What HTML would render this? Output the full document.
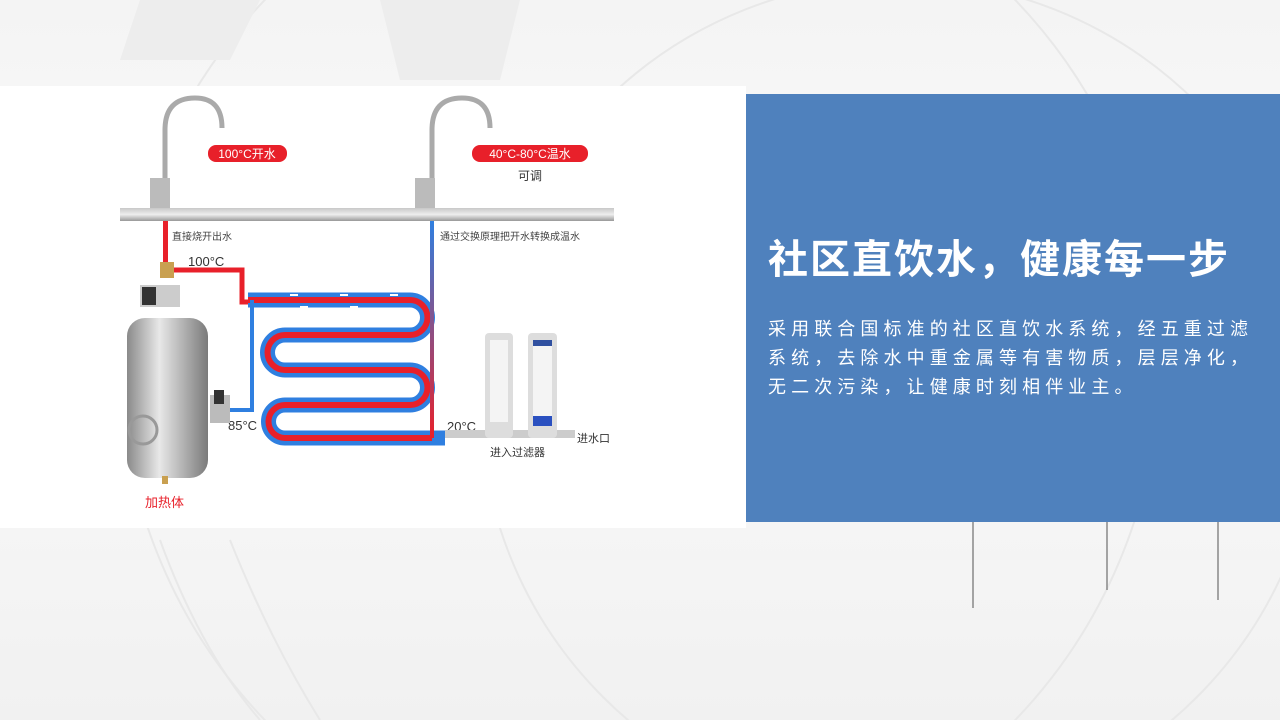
<!DOCTYPE html>
<html style="overflow:hidden;width:1280px;height:720px"><head><meta charset="utf-8"><style>
body{margin:0;width:1280px;height:720px;overflow:hidden;position:relative;background:linear-gradient(180deg,#f4f4f4 0%,#fafafa 40%,#f1f1f1 100%);font-family:"Liberation Sans","Noto Sans CJK SC",sans-serif}
.bg{position:absolute;left:0;top:0;display:block}
.white{position:absolute;left:0;top:86px;width:746px;height:442px;background:#fff}
.blue{position:absolute;left:746px;top:94px;width:534px;height:428px;background:#4f81bd}
.title{position:absolute;left:768px;top:234px;color:#fff;font-size:40px;font-weight:bold;letter-spacing:2px;white-space:nowrap;line-height:52px}
.body{position:absolute;left:768px;top:315px;color:#fff;font-size:18px;letter-spacing:5.1px;line-height:29px;width:500px;height:90px;overflow:hidden}
</style></head><body>
<svg class="bg" width="1280" height="720">
<g fill="none" stroke="#e8e8e8" stroke-width="2">
<circle cx="640" cy="360" r="520"/><circle cx="900" cy="400" r="420"/>
<path d="M160 540 Q 200 650 260 720"/><path d="M230 540 Q 270 640 320 720"/>
</g>
<g stroke="#888" stroke-width="1.5"><line x1="973" y1="522" x2="973" y2="608"/><line x1="1107" y1="522" x2="1107" y2="590"/><line x1="1218" y1="522" x2="1218" y2="600"/></g>
<g fill="#ededed"><polygon points="140,0 260,0 230,60 120,60"/><polygon points="380,0 520,0 500,80 400,80"/></g>
</svg>
<div class="white"></div>
<div class="blue"></div>
<svg class="bg" width="746" height="528" style="font-family:'Liberation Sans','Noto Sans CJK SC',sans-serif">
<defs>
<linearGradient id="tank" x1="0" x2="1"><stop offset="0" stop-color="#8a8a8a"/><stop offset=".4" stop-color="#e8e8e8"/><stop offset="1" stop-color="#7a7a7a"/></linearGradient>
<linearGradient id="vp" x1="0" y1="0" x2="0" y2="1"><stop offset="0" stop-color="#2f7fe0"/><stop offset="1" stop-color="#e8202a"/></linearGradient>
<linearGradient id="pipe" x1="0" y1="0" x2="0" y2="1"><stop offset="0" stop-color="#c8c8c8"/><stop offset=".5" stop-color="#eee"/><stop offset="1" stop-color="#999"/></linearGradient>
</defs>
<g fill="none" stroke="#aaa" stroke-width="5">
<path d="M165 210 V130 Q165 98 195 98 Q222 98 222 128"/>
<path d="M432 210 V130 Q432 98 462 98 Q490 98 490 128"/>
</g>
<rect x="150" y="178" width="20" height="30" fill="#bbb"/><rect x="415" y="178" width="20" height="30" fill="#bbb"/>
<rect x="120" y="208" width="494" height="13" fill="url(#pipe)"/>
<rect x="208" y="145" width="79" height="17" rx="8" fill="#e8202a"/>
<text x="247" y="158" font-size="12" fill="#fff" text-anchor="middle">100°C开水</text>
<rect x="472" y="145" width="116" height="17" rx="8" fill="#e8202a"/>
<text x="530" y="158" font-size="12" fill="#fff" text-anchor="middle">40°C-80°C温水</text>
<text x="530" y="180" font-size="12" fill="#333" text-anchor="middle">可调</text>
<rect x="163" y="221" width="5" height="42" fill="#e8202a"/>
<text x="172" y="240" font-size="10" fill="#444">直接烧开出水</text>
<text x="188" y="266" font-size="13" fill="#333">100°C</text>
<rect x="160" y="262" width="14" height="16" fill="#c9a050"/>
<rect x="140" y="285" width="40" height="22" fill="#ccc"/><rect x="142" y="287" width="14" height="18" fill="#333"/>
<path d="M174 270 H242 V302 H250" fill="none" stroke="#e8202a" stroke-width="5"/>
<path d="M248 300 H410 A17.5 17.5 0 0 1 410 335 H285 A17.5 17.5 0 0 0 285 370 H410 A17.5 17.5 0 0 1 410 405 H285 A16.5 16.5 0 0 0 285 438 H445" fill="none" stroke="#2f7fe0" stroke-width="15"/>
<path d="M248 300 H410 A17.5 17.5 0 0 1 410 335 H285 A17.5 17.5 0 0 0 285 370 H410 A17.5 17.5 0 0 1 410 405 H285 A16.5 16.5 0 0 0 285 438 H432" fill="none" stroke="#e8202a" stroke-width="6"/>
<path d="M252 300 V410 H226" fill="none" stroke="#2f7fe0" stroke-width="4"/>
<rect x="430" y="221" width="4" height="217" fill="url(#vp)"/>
<text x="440" y="240" font-size="10" fill="#444">通过交换原理把开水转换成温水</text>
<g fill="#fff"><rect x="290" y="294" width="8" height="2"/><rect x="340" y="294" width="8" height="2"/><rect x="390" y="294" width="8" height="2"/><rect x="300" y="306" width="8" height="2"/><rect x="350" y="306" width="8" height="2"/></g>
<text x="228" y="430" font-size="13" fill="#333">85°C</text>
<text x="447" y="431" font-size="13" fill="#333">20°C</text>
<rect x="210" y="395" width="20" height="28" fill="#bbb"/><rect x="214" y="390" width="10" height="14" fill="#333"/>
<rect x="127" y="318" width="81" height="160" rx="18" fill="url(#tank)"/>
<circle cx="143" cy="430" r="14" fill="none" stroke="#999" stroke-width="3"/>
<rect x="162" y="476" width="6" height="8" fill="#c9a050"/>
<text x="145" y="507" font-size="13" fill="#e8202a">加热体</text>
<rect x="445" y="430" width="130" height="8" fill="#ccc"/>
<rect x="485" y="333" width="28" height="105" rx="4" fill="#ddd"/><rect x="490" y="340" width="18" height="82" fill="#f4f4f4"/>
<rect x="528" y="333" width="29" height="105" rx="4" fill="#ddd"/><rect x="533" y="340" width="19" height="82" fill="#f4f4f4"/><rect x="533" y="340" width="19" height="6" fill="#3050a0"/><rect x="533" y="416" width="19" height="10" fill="#2a50c0"/>
<text x="577" y="442" font-size="11" fill="#333">进水口</text>
<text x="490" y="456" font-size="11" fill="#333">进入过滤器</text>
</svg>
<div class="title">社区直饮水，健康每一步</div>
<div class="body">采用联合国标准的社区直饮水系统，经五重过滤系统，去除水中重金属等有害物质，层层净化，无二次污染，让健康时刻相伴业主。</div>
</body></html>
